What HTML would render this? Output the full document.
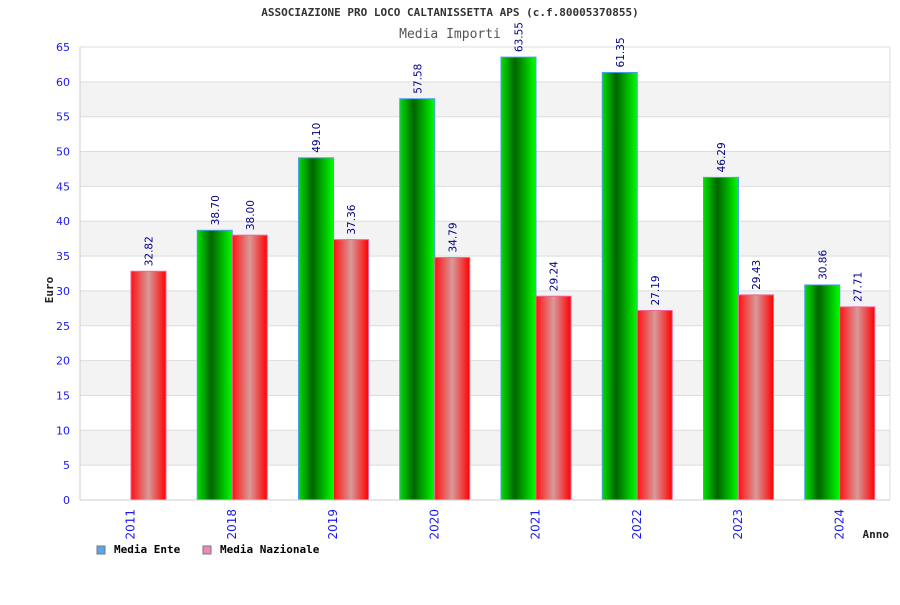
<!DOCTYPE html>
<html><head><meta charset="utf-8"><style>
body{margin:0;background:#fff}
svg text{font-family:"DejaVu Sans Mono","Liberation Mono",monospace}
svg text.sans{font-family:"DejaVu Sans","Liberation Sans",sans-serif}
</style></head><body>
<svg id="c" width="900" height="600" xmlns="http://www.w3.org/2000/svg">
<defs>
<linearGradient id="gg" x1="0" x2="1" y1="0" y2="0"><stop offset="0" stop-color="#00e000"/><stop offset="0.4" stop-color="#006400"/><stop offset="1" stop-color="#00ff00"/></linearGradient>
<linearGradient id="gr" x1="0" x2="1" y1="0" y2="0"><stop offset="0" stop-color="#ff1010"/><stop offset="0.5" stop-color="#d89a9a"/><stop offset="1" stop-color="#ff0000"/></linearGradient>
</defs>
<text x="450" y="16" text-anchor="middle" font-size="11" font-weight="bold" fill="#333">ASSOCIAZIONE PRO LOCO CALTANISSETTA APS (c.f.80005370855)</text>
<text x="450" y="38" text-anchor="middle" font-size="13" fill="#555">Media Importi</text>
<g id="grid"></g><g id="bars"></g><g id="axes"></g>
<text transform="translate(53,290) rotate(-90)" text-anchor="middle" font-size="11" font-weight="bold" fill="#222">Euro</text>
<text x="889" y="538" text-anchor="end" font-size="11" font-weight="bold" fill="#222">Anno</text>
<g><rect x="97" y="546" width="8" height="8" fill="#5aa6ee" stroke="#777"/><text x="114" y="553" font-size="11" font-weight="bold" fill="#000">Media Ente</text></g>
<g><rect x="203" y="546" width="8" height="8" fill="#ee88bb" stroke="#777"/><text x="220" y="553" font-size="11" font-weight="bold" fill="#000">Media Nazionale</text></g>
</svg>
<script>
const categories=["2011","2018","2019","2020","2021","2022","2023","2024"];
const enteValues=[null,38.70,49.10,57.58,63.55,61.35,46.29,30.86];
const nazValues=[32.82,38.00,37.36,34.79,29.24,27.19,29.43,27.71];
const yTicks=[0,5,10,15,20,25,30,35,40,45,50,55,60,65];
const NS="http://www.w3.org/2000/svg";
const X0=80,X1=890,Y0=500,Y1=47,YMAX=65;
const y=v=>Y0-(v/YMAX)*(Y0-Y1);
const gw=(X1-X0)/categories.length;
const x=i=>X0+i*gw;
function mk(t,a,p){const e=document.createElementNS(NS,t);for(const k in a)e.setAttribute(k,a[k]);p.appendChild(e);return e;}
const grid=document.getElementById('grid'),bars=document.getElementById('bars'),axes=document.getElementById('axes');
for(let i=0;i<yTicks.length-1;i++){
  const a=yTicks[i],b=yTicks[i+1];
  const r=mk('rect',{x:X0,y:y(b),width:X1-X0,height:y(a)-y(b),fill:(b%10===0)?'#f3f3f3':'#fff'},grid);
  
  
}
yTicks.forEach(v=>{
  const l=mk('line',{x1:X0,x2:X1,y1:y(v),y2:y(v),stroke:'#ddd'},grid);
  
  
  const t=mk('text',{x:70,y:y(v)+4,'text-anchor':'end','font-size':11,fill:'#1a1aee',class:'sans'},axes);
  t.textContent=v;
  
  
});
mk('line',{x1:X0,x2:X0,y1:Y1,y2:Y0,stroke:'#ccc'},axes);
mk('line',{x1:X0,x2:X1,y1:Y0,y2:Y0,stroke:'#ccc'},axes);
mk('line',{x1:X1,x2:X1,y1:Y1,y2:Y0,stroke:'#ddd'},axes);
const bw=35;
function label(cx,v){
  const t=mk('text',{transform:`translate(${cx+4},${y(v)-5}) rotate(-90)`,'font-size':10.5,fill:'#000088',class:'sans'},bars);
  t.textContent=v.toFixed(2);
  
  
}
categories.forEach((c,i)=>{
  const gx=x(i)+16;
  if(enteValues[i]!=null){
    const r=mk('rect',{x:gx,y:y(enteValues[i]),width:bw,height:Y0-y(enteValues[i]),fill:'url(#gg)',stroke:'#4a9ef0','stroke-width':1},bars);
    
    
    label(gx+bw/2,enteValues[i]);
  }
  const r2=mk('rect',{x:gx+bw,y:y(nazValues[i]),width:bw,height:Y0-y(nazValues[i]),fill:'url(#gr)',stroke:'#ee6699','stroke-width':1},bars);
  
  
  label(gx+bw*1.5,nazValues[i]);
  const t=mk('text',{transform:`translate(${x(i)+gw/2+4},${509}) rotate(-90)`,'text-anchor':'end','font-size':12,fill:'#1a1aee',class:'sans'},axes);
  t.textContent=c;
  
  
});
</script>
</body></html>
